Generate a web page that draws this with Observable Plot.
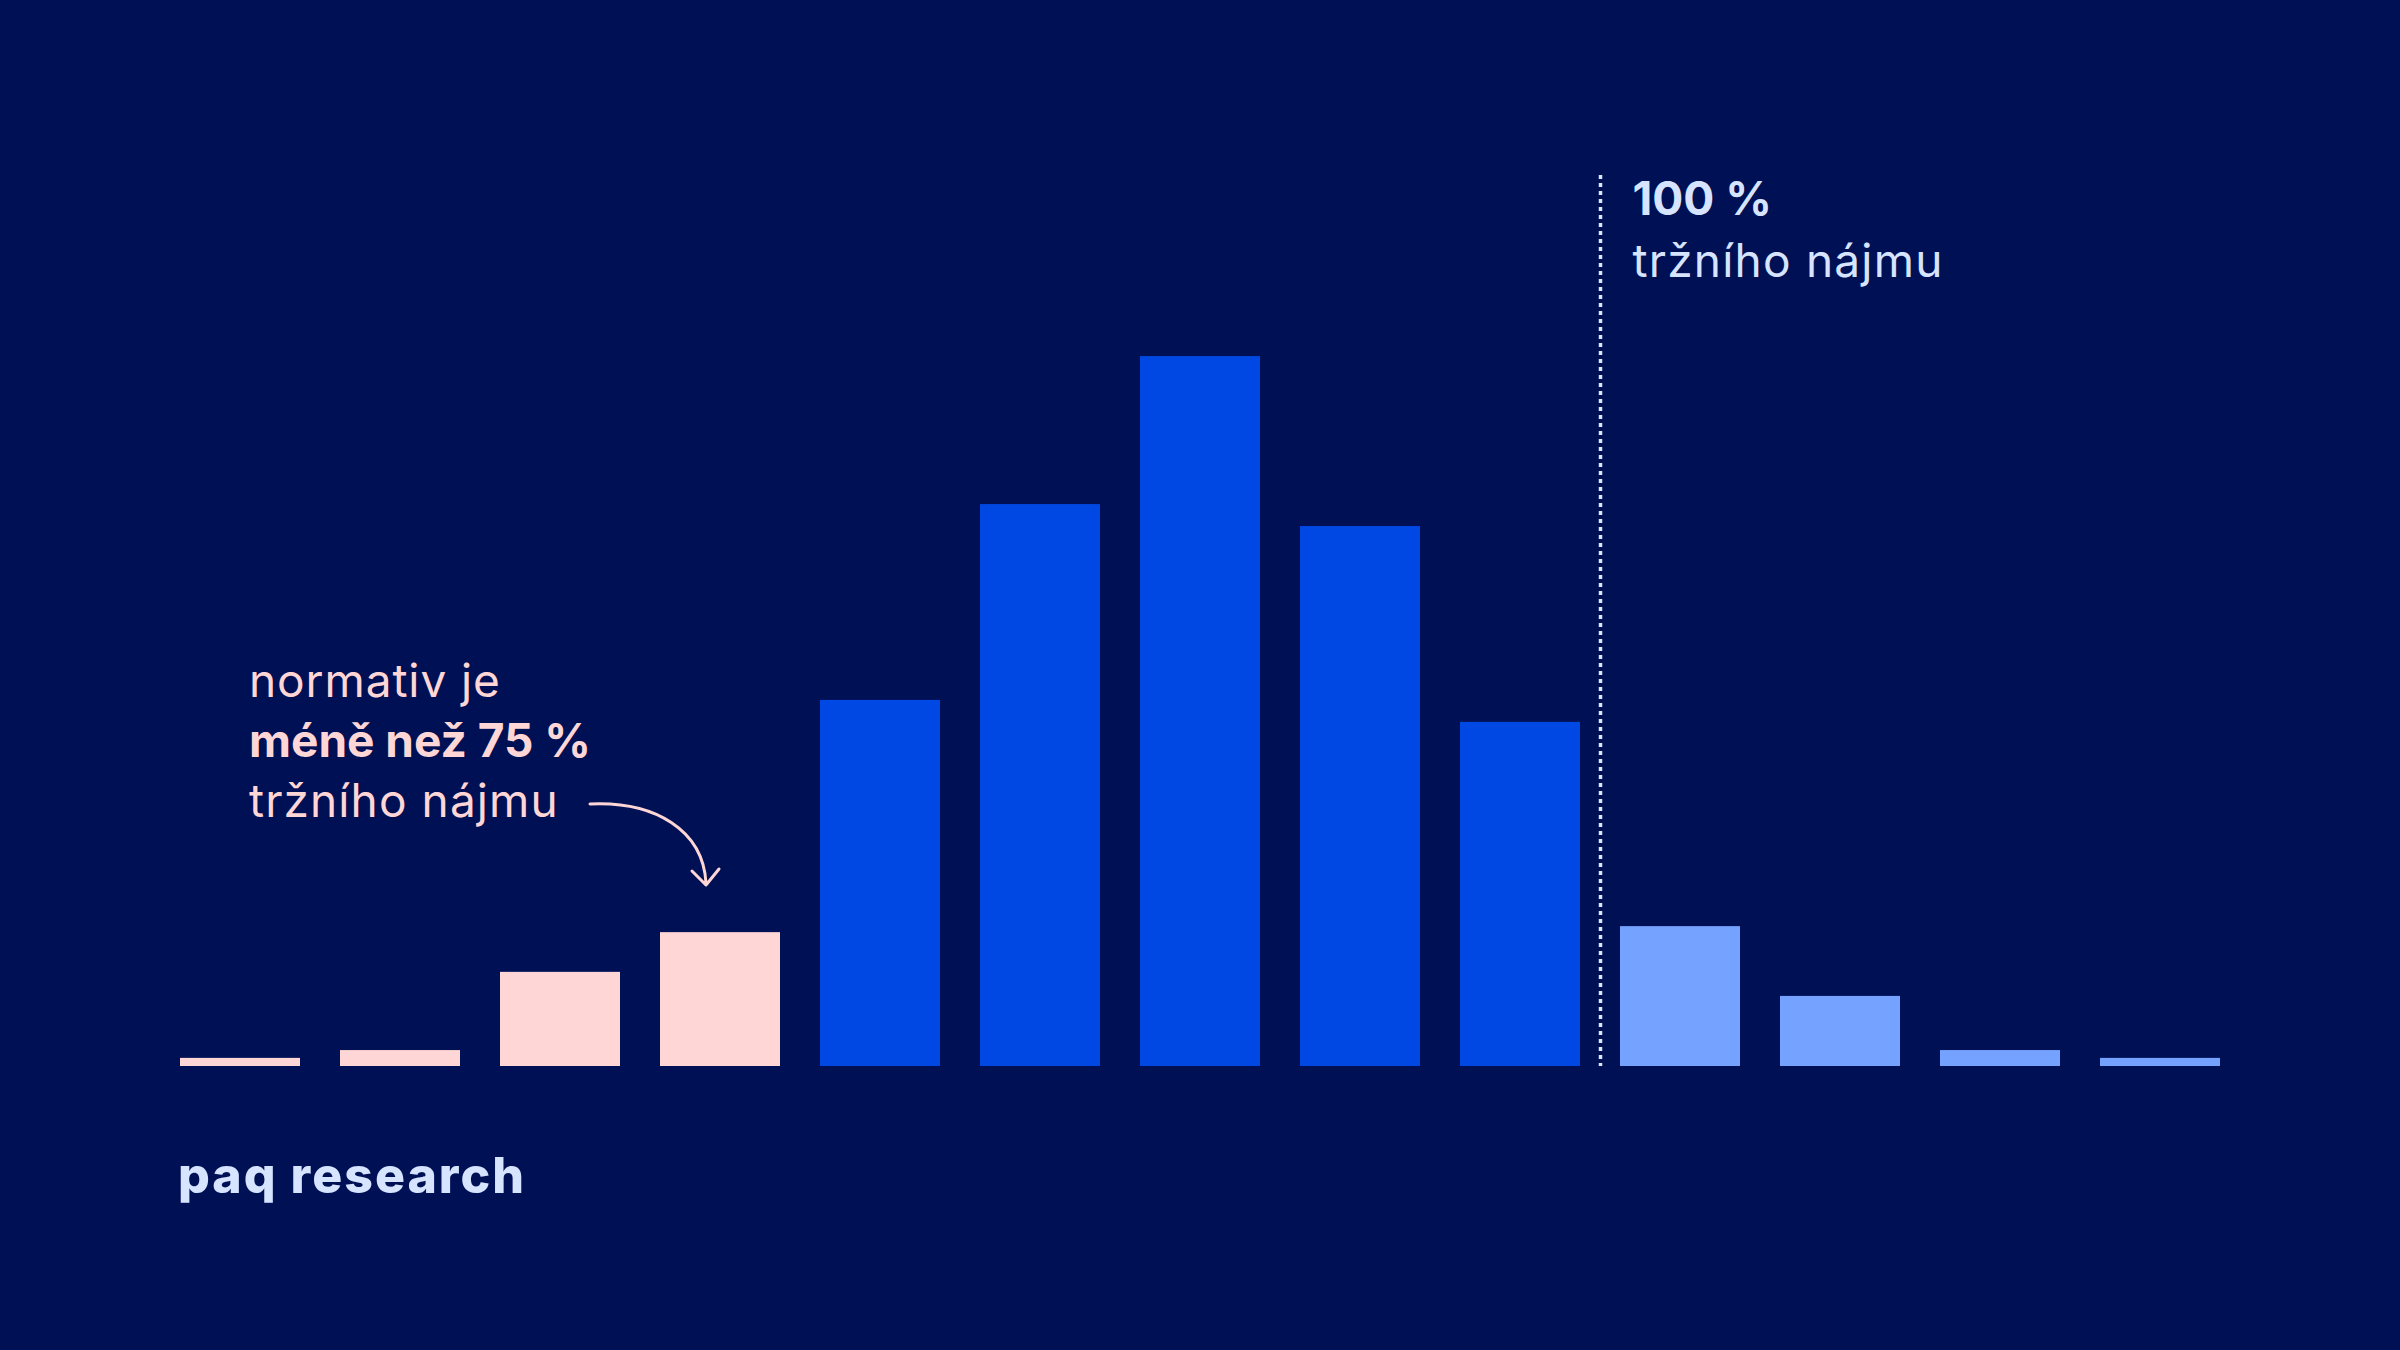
<!DOCTYPE html>
<html>
<head>
<meta charset="utf-8">
<script src="https://cdn.jsdelivr.net/npm/d3@7"></script>
<script src="https://cdn.jsdelivr.net/npm/@observablehq/plot@0.6"></script>
<style>
  html, body { margin: 0; padding: 0; background: #001055; }
  #wrap { position: relative; width: 2400px; height: 1350px; overflow: hidden; }
  #wrap svg { display: block; }
  #overlay { position: absolute; left: 0; top: 0; pointer-events: none; }
</style>
</head>
<body>
<div id="wrap"></div>
<script>
// Bin start (normativ as % of market rent), bins are 5 percentage points wide
const binStart = [55, 60, 65, 70, 75, 80, 85, 90, 95, 100, 105, 110, 115];
const binWidth = 5;
// Share of cases in each bin (%)
const share = [0.27, 0.53, 3.13, 4.45, 12.17, 18.68, 23.6, 17.95, 11.44, 4.65, 2.33, 0.53, 0.27];
// Group of each bin
const group = ["pod75", "pod75", "pod75", "pod75", "75-100", "75-100", "75-100", "75-100", "75-100", "nad100", "nad100", "nad100", "nad100"];
const groupNames = ["pod75", "75-100", "nad100"];
const groupColors = ["#ffd6d6", "#0048e3", "#76a2ff"];
const marketRent = 100;

const labelTop = "100 %";
const labelTopSub = "tržního nájmu";
const noteLines = ["normativ je", "méně než 75 %", "tržního nájmu"];
const logo = "paq research";

const data = binStart.map((b, i) => ({x1: b, x2: b + binWidth, share: share[i], group: group[i]}));

const plot = Plot.plot({
  width: 2400,
  height: 1350,
  marginLeft: 160,
  marginRight: 160,
  marginTop: 175,
  marginBottom: 284,
  style: {background: "transparent", fontFamily: "Inter, 'Noto Sans', sans-serif"},
  x: {domain: [55, 120], axis: null},
  y: {domain: [0, 29.62], axis: null},
  color: {domain: groupNames, range: groupColors},
  marks: [
    Plot.rectY(data, {x1: "x1", x2: "x2", y: "share", fill: "group", insetLeft: 20, insetRight: 20}),
    Plot.ruleX([marketRent], {stroke: "#dde6ff", strokeWidth: 3.5, strokeDasharray: "4 4"}),
    Plot.text([labelTop], {x: () => marketRent, frameAnchor: "top", lineAnchor: "top", textAnchor: "start",
      dx: 32, dy: 7, fill: "#d6e4ff", fontSize: 46, fontWeight: 700, text: d => d}),
    Plot.text([labelTopSub], {x: () => marketRent, frameAnchor: "top", lineAnchor: "top", textAnchor: "start",
      dx: 32, dy: 69, fill: "#d6e4ff", fontSize: 46, fontWeight: 400, letterSpacing: 1.2, text: d => d})
  ]
});

const wrap = document.getElementById("wrap");
wrap.appendChild(plot);
// letter spacing for the sub label
plot.querySelectorAll("text").forEach(t => {
  if (t.textContent === labelTopSub) t.setAttribute("letter-spacing", "1.2");
});

// Annotation overlay
const ns = "http://www.w3.org/2000/svg";
const ov = document.createElementNS(ns, "svg");
ov.setAttribute("id", "overlay");
ov.setAttribute("width", 2400);
ov.setAttribute("height", 1350);
ov.setAttribute("viewBox", "0 0 2400 1350");
ov.style.fontFamily = "Inter, 'Noto Sans', sans-serif";
const weights = [400, 700, 400];
const spacing = [0.9, 0, 1.1];
noteLines.forEach((t, i) => {
  const el = document.createElementNS(ns, "text");
  el.setAttribute("x", 249);
  el.setAttribute("y", 697 + i * 60);
  el.setAttribute("fill", "#ffd6d6");
  el.setAttribute("font-size", 46);
  el.setAttribute("font-weight", weights[i]);
  el.setAttribute("letter-spacing", spacing[i]);
  el.textContent = t;
  ov.appendChild(el);
});
const arrow = document.createElementNS(ns, "path");
arrow.setAttribute("d", "M590,804 C655,801 703,830 706,883 M692,871 L706,885 L719,869");
arrow.setAttribute("fill", "none");
arrow.setAttribute("stroke", "#ffd6d6");
arrow.setAttribute("stroke-width", 3);
arrow.setAttribute("stroke-linecap", "round");
arrow.setAttribute("stroke-linejoin", "round");
ov.appendChild(arrow);
const lg = document.createElementNS(ns, "text");
lg.setAttribute("x", 178);
lg.setAttribute("y", 1193);
lg.setAttribute("fill", "#d6e4ff");
lg.setAttribute("font-size", 50);
lg.setAttribute("font-weight", 800);
lg.setAttribute("letter-spacing", "2");
lg.textContent = logo;
ov.appendChild(lg);
wrap.appendChild(ov);
</script>
</body>
</html>
